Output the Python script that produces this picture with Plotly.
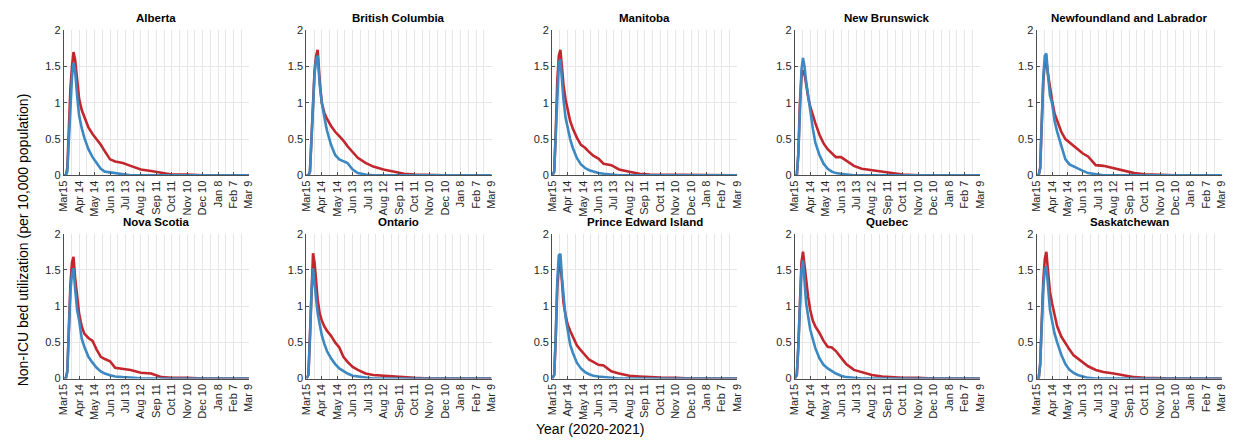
import plotly.graph_objects as go

W, H = 1235, 442

PROVINCES = ["Alberta", "British Columbia", "Manitoba", "New Brunswick",
             "Newfoundland and Labrador", "Nova Scotia", "Ontario",
             "Prince Edward Island", "Quebec", "Saskatchewan"]

DAYS = [0, 4, 7, 10, 13, 16, 19, 22, 26, 30, 35, 40, 48, 56, 64, 72, 80, 90,
        100, 115, 130, 150, 170, 190, 210, 240, 270, 360]

TICK_DAYS = [0, 30, 60, 90, 120, 150, 180, 210, 240, 270, 300, 330, 360]
TICK_LABELS = ["Mar15", "Apr 14", "May 14", "Jun 13", "Jul 13", "Aug 12", "Sep 11",
               "Oct 11", "Nov 10", "Dec 10", "Jan 8", "Feb 7", "Mar 9"]

# red series (upper curve)
alberta_red = [0, 0, 0.1, 0.7, 1.2, 1.5, 1.7, 1.6, 1.3, 1.05, 0.9, 0.8, 0.66, 0.57, 0.5, 0.42,
               0.33, 0.22, 0.19, 0.17, 0.13, 0.08, 0.06, 0.03, 0.01, 0.01]
bc_red = [0, 0, 0.05, 0.5, 1.1, 1.45, 1.65, 1.73, 1.3, 1.0, 0.86, 0.78, 0.68, 0.6, 0.54, 0.48,
          0.4, 0.32, 0.24, 0.17, 0.12, 0.08, 0.05, 0.02, 0.01]
manitoba_red = [0, 0.05, 0.6, 1.3, 1.65, 1.73, 1.5, 1.25, 1.05, 0.9, 0.75, 0.65, 0.52, 0.42,
                0.38, 0.32, 0.27, 0.23, 0.16, 0.14, 0.08, 0.05, 0.02, 0.01, 0.01]
nb_red = [0, 0, 0.3, 1.0, 1.35, 1.45, 1.4, 1.25, 1.08, 0.95, 0.83, 0.72, 0.56, 0.44, 0.36, 0.3,
          0.25, 0.25, 0.2, 0.13, 0.09, 0.07, 0.04, 0.02, 0.01]
nl_red = [0, 0, 0.1, 0.8, 1.3, 1.55, 1.58, 1.4, 1.2, 1.04, 0.85, 0.75, 0.6, 0.5, 0.45, 0.4,
          0.36, 0.3, 0.26, 0.14, 0.13, 0.1, 0.06, 0.03, 0.015, 0.005]
ns_red = [0, 0, 0.1, 0.8, 1.3, 1.6, 1.68, 1.4, 1.1, 0.89, 0.72, 0.62, 0.56, 0.52, 0.4, 0.3,
          0.27, 0.24, 0.15, 0.13, 0.12, 0.08, 0.07, 0.02, 0.01, 0.01]
ontario_red = [0, 0.05, 0.6, 1.3, 1.73, 1.6, 1.35, 1.09, 0.9, 0.8, 0.72, 0.66, 0.59, 0.5, 0.43,
               0.3, 0.23, 0.16, 0.12, 0.07, 0.05, 0.04, 0.03, 0.01, 0.01]
pei_red = [0, 0.05, 0.55, 1.25, 1.55, 1.6, 1.35, 1.05, 0.88, 0.75, 0.66, 0.58, 0.46, 0.39, 0.32,
           0.26, 0.23, 0.19, 0.18, 0.1, 0.07, 0.04, 0.03, 0.02, 0.015, 0.01]
quebec_red = [0, 0.05, 0.45, 1.15, 1.6, 1.75, 1.55, 1.3, 1.13, 0.95, 0.8, 0.72, 0.63, 0.52,
              0.44, 0.43, 0.38, 0.29, 0.2, 0.12, 0.09, 0.05, 0.03, 0.02, 0.01, 0.01]
sask_red = [0, 0, 0.2, 0.8, 1.35, 1.65, 1.75, 1.5, 1.2, 1.04, 0.88, 0.72, 0.58, 0.48, 0.4, 0.32,
            0.28, 0.23, 0.17, 0.12, 0.09, 0.07, 0.04, 0.02, 0.01, 0.005]

# blue series (lower curve)
alberta_blue = [0, 0, 0.05, 0.5, 1.0, 1.35, 1.55, 1.45, 1.1, 0.82, 0.65, 0.52, 0.36, 0.25, 0.17,
                0.09, 0.05, 0.04, 0.02, 0.01]
bc_blue = [0, 0, 0.05, 0.5, 1.05, 1.4, 1.6, 1.65, 1.25, 1.0, 0.8, 0.62, 0.42, 0.28, 0.22, 0.2,
           0.17, 0.08, 0.03, 0.01]
manitoba_blue = [0, 0.05, 0.55, 1.2, 1.55, 1.6, 1.3, 1.05, 0.8, 0.65, 0.5, 0.38, 0.24, 0.15,
                 0.1, 0.07, 0.05, 0.03, 0.02, 0.01]
nb_blue = [0, 0, 0.3, 1.0, 1.45, 1.62, 1.5, 1.3, 1.1, 0.85, 0.65, 0.45, 0.28, 0.16, 0.09, 0.05,
           0.03, 0.02, 0.01]
nl_blue = [0, 0, 0.1, 0.8, 1.35, 1.65, 1.68, 1.4, 1.1, 1.0, 0.75, 0.6, 0.42, 0.22, 0.15, 0.12,
           0.1, 0.06, 0.03, 0.01]
ns_blue = [0, 0, 0.1, 0.75, 1.2, 1.45, 1.52, 1.25, 0.95, 0.8, 0.55, 0.44, 0.3, 0.22, 0.15, 0.1,
           0.07, 0.045, 0.03, 0.02, 0.01, 0.005]
ontario_blue = [0, 0.05, 0.55, 1.2, 1.52, 1.35, 1.1, 0.9, 0.72, 0.6, 0.48, 0.38, 0.28, 0.2,
                0.14, 0.1, 0.07, 0.04, 0.03, 0.01]
pei_blue = [0, 0.05, 0.6, 1.35, 1.7, 1.72, 1.4, 1.13, 0.85, 0.68, 0.47, 0.36, 0.22, 0.14, 0.09,
            0.06, 0.04, 0.03, 0.02, 0.01]
quebec_blue = [0, 0.05, 0.45, 1.1, 1.5, 1.63, 1.35, 1.05, 0.86, 0.68, 0.55, 0.42, 0.28, 0.19,
               0.14, 0.1, 0.07, 0.04, 0.02, 0.01]
sask_blue = [0, 0, 0.2, 0.75, 1.25, 1.5, 1.55, 1.3, 0.95, 0.8, 0.62, 0.5, 0.33, 0.2, 0.12, 0.08,
             0.05, 0.03, 0.01]

RED = [alberta_red, bc_red, manitoba_red, nb_red, nl_red, ns_red, ontario_red, pei_red,
       quebec_red, sask_red]
BLUE = [alberta_blue, bc_blue, manitoba_blue, nb_blue, nl_blue, ns_blue, ontario_blue,
        pei_blue, quebec_blue, sask_blue]


def pad(v):
    return list(v) + [0] * (len(DAYS) - len(v))


FONT = "Liberation Sans, Arial, Helvetica, sans-serif"
RED_C = "#c1272d"
BLUE_C = "#3c88c2"

col_left = [58.3, 303.3, 551.5, 796.5, 1040.7]
ax_w = 187
row_top = [25, 234]
ax_h = 149

fig = go.Figure()
layout = dict(
    width=W, height=H, margin=dict(l=0, r=0, t=0, b=0),
    paper_bgcolor="white", plot_bgcolor="white", showlegend=False,
    font=dict(family=FONT, size=11, color="#262626"),
)
annotations = []

for i, name in enumerate(PROVINCES):
    r, c = divmod(i, 5)
    n = i + 1
    xa = "xaxis" if n == 1 else f"xaxis{n}"
    ya = "yaxis" if n == 1 else f"yaxis{n}"
    xr = "x" if n == 1 else f"x{n}"
    yr = "y" if n == 1 else f"y{n}"
    x0 = col_left[c] / W
    x1 = (col_left[c] + ax_w) / W
    y1 = 1 - row_top[r] / H
    y0 = 1 - (row_top[r] + ax_h) / H
    layout[xa] = dict(
        domain=[x0, x1], anchor=yr, range=[0, 360], tickmode="array",
        tickvals=TICK_DAYS, ticktext=TICK_LABELS, tickangle=-90,
        tickfont=dict(size=11, color="#262626", family=FONT),
        showgrid=True, gridcolor="#e6e6e6", gridwidth=1,
        minor=dict(dtick=15, tick0=0, showgrid=True, gridcolor="#e6e6e6", gridwidth=1),
        showline=True, linecolor="#4d4d4d", linewidth=1, ticks="inside", ticklen=3,
        tickcolor="#4d4d4d", zeroline=False, fixedrange=True,
    )
    layout[ya] = dict(
        domain=[y0, y1], anchor=xr, range=[0, 2], tickmode="array",
        tickvals=[0, 0.5, 1, 1.5, 2], ticktext=["0", "0.5", "1", "1.5", "2"],
        tickfont=dict(size=11, color="#262626", family=FONT),
        showgrid=True, gridcolor="#e6e6e6", gridwidth=1,
        showline=True, linecolor="#4d4d4d", linewidth=1, ticks="inside", ticklen=3,
        tickcolor="#4d4d4d", zeroline=False, fixedrange=True,
    )
    fig.add_trace(go.Scatter(x=DAYS, y=pad(RED[i]), mode="lines", xaxis=xr, yaxis=yr,
                             line=dict(color=RED_C, width=2.6)))
    fig.add_trace(go.Scatter(x=DAYS, y=pad(BLUE[i]), mode="lines", xaxis=xr, yaxis=yr,
                             line=dict(color=BLUE_C, width=2.6)))
    annotations.append(dict(
        text=f"<b>{name}</b>", xref="paper", yref="paper",
        x=(x0 + x1) / 2, y=y1 + 4 / H, xanchor="center", yanchor="bottom",
        showarrow=False, font=dict(size=11.5, color="#000000", family=FONT)))

annotations.append(dict(
    text="Non-ICU bed utilization (per 10,000 population)", xref="paper", yref="paper",
    x=18 / W, y=1 - 240 / H, xanchor="center", yanchor="middle", textangle=-90,
    showarrow=False, font=dict(size=14, color="#000000", family=FONT)))
annotations.append(dict(
    text="Year (2020-2021)", xref="paper", yref="paper",
    x=590 / W, y=1 - 435 / H, xanchor="center", yanchor="middle",
    showarrow=False, font=dict(size=14, color="#000000", family=FONT)))

layout["annotations"] = annotations
fig.update_layout(**layout)
fig.write_html("out.html")
